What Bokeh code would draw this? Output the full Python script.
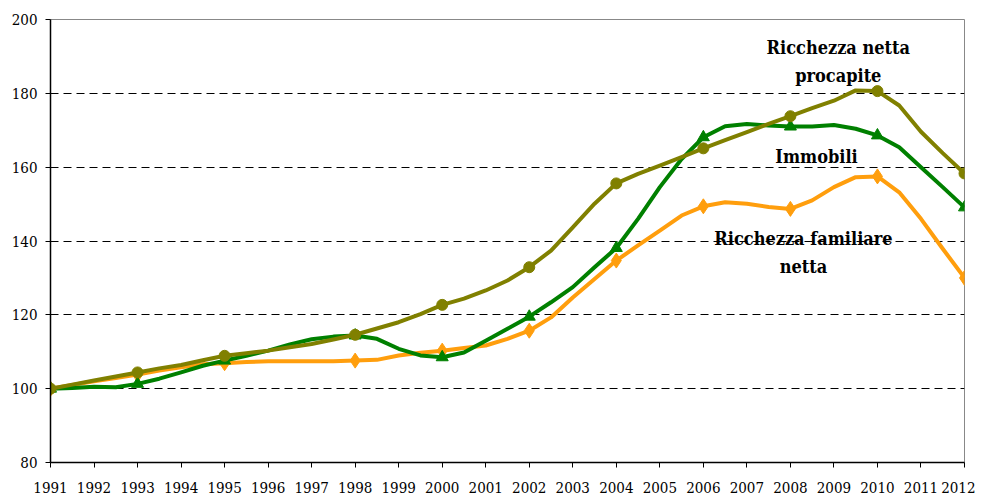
from bokeh.plotting import figure
from bokeh.embed import file_html
from bokeh.resources import INLINE
from bokeh.models import FixedTicker, Label

# Half-year readings
years = [1991, 1991.5, 1992, 1992.5, 1993, 1993.5, 1994, 1994.5, 1995, 1995.5,
         1996, 1996.5, 1997, 1997.5, 1998, 1998.5, 1999, 1999.5, 2000, 2000.5,
         2001, 2001.5, 2002, 2002.5, 2003, 2003.5, 2004, 2004.5, 2005, 2005.5,
         2006, 2006.5, 2007, 2007.5, 2008, 2008.5, 2009, 2009.5, 2010, 2010.5,
         2011, 2011.5, 2012]

procapite = [100.0, 101.1, 102.2, 103.3, 104.4, 105.5, 106.4, 107.7, 108.9, 109.6,
             110.3, 111.2, 112.1, 113.3, 114.6, 116.3, 118.0, 120.2, 122.7, 124.4,
             126.6, 129.3, 132.9, 137.4, 143.7, 150.1, 155.6, 158.2, 160.4, 162.7,
             165.1, 167.3, 169.5, 171.7, 173.8, 176.0, 178.0, 180.8, 180.6, 176.7,
             169.6, 163.8, 158.3]

immobili = [100.0, 100.2, 100.5, 100.4, 101.3, 102.7, 104.4, 106.2, 107.6, 108.9,
            110.3, 112.0, 113.4, 114.1, 114.4, 113.5, 110.8, 109.0, 108.5, 109.8,
            113.0, 116.2, 119.5, 123.4, 127.5, 132.9, 138.1, 146.0, 154.6, 162.2,
            168.1, 171.1, 171.7, 171.3, 171.0, 171.0, 171.4, 170.4, 168.6, 165.4,
            160.0, 154.6, 149.1]

familiare = [100.0, 101.0, 102.0, 102.9, 103.8, 104.9, 105.8, 106.6, 106.9, 107.2,
             107.4, 107.4, 107.4, 107.4, 107.6, 107.8, 109.0, 109.7, 110.3, 111.0,
             111.7, 113.5, 115.7, 119.3, 124.7, 129.7, 134.7, 138.8, 142.8, 146.9,
             149.4, 150.5, 150.1, 149.2, 148.7, 151.0, 154.6, 157.3, 157.5, 153.2,
             146.0, 137.9, 130.0]

marker_years = [1991, 1993, 1995, 1998, 2000, 2002, 2004, 2006, 2008, 2010, 2012]
tick_years = list(range(1991, 2013))
y_ticks = [80, 100, 120, 140, 160, 180, 200]
grid_ticks = [100, 120, 140, 160, 180]

p = figure(width=975, height=495, output_backend="svg", toolbar_location=None,
           x_range=(1991, 2012), y_range=(80, 200),
           min_border_left=50, min_border_right=11, min_border_top=19, min_border_bottom=33)

p.background_fill_color = "white"
p.border_fill_color = "white"
p.outline_line_color = "#888888"
p.outline_line_width = 1

p.xgrid.visible = False
p.ygrid.ticker = FixedTicker(ticks=grid_ticks)
p.ygrid.grid_line_color = "black"
p.ygrid.grid_line_dash = "8 5"
p.ygrid.grid_line_width = 1

font = "DejaVu Serif Condensed"
p.axis.axis_line_color = "black"
p.axis.axis_line_width = 1.5
p.axis.major_tick_line_color = "black"
p.axis.major_tick_out = 5
p.axis.major_tick_in = 0
p.axis.minor_tick_line_color = None
p.axis.major_label_text_font = font
p.axis.major_label_text_font_style = "normal"
p.axis.major_label_text_font_size = "15px"
p.axis.major_label_text_color = "black"

p.xaxis.ticker = FixedTicker(ticks=tick_years)
p.xaxis.major_label_standoff = 14
p.yaxis.ticker = FixedTicker(ticks=y_ticks)
p.yaxis.major_label_standoff = 8

series = [
    (familiare, "#FF9E0D", "diamond", 15),
    (immobili, "#008000", "triangle", 12),
    (procapite, "#808000", "circle", 11),
]
for vals, color, marker, size in series:
    p.line(years, vals, line_color=color, line_width=4, line_join="round")
    mx = [y for y in years if y in marker_years]
    my = [v for y, v in zip(years, vals) if y in marker_years]
    p.scatter(mx, my, marker=marker, size=size, fill_color=color, line_color=color)

labels = [
    ("Ricchezza netta", 2009.1, 192.5),
    ("procapite", 2009.1, 184.8),
    ("Immobili", 2008.6, 163.0),
    ("Ricchezza familiare", 2008.3, 140.8),
    ("netta", 2008.3, 133.2),
]
for txt, x, y in labels:
    p.add_layout(Label(x=x, y=y, text=txt, text_font=font, text_font_style="bold",
                       text_font_size="18px", text_align="center", text_baseline="middle",
                       text_color="black"))

open("out.html", "w").write(file_html(p, INLINE))
